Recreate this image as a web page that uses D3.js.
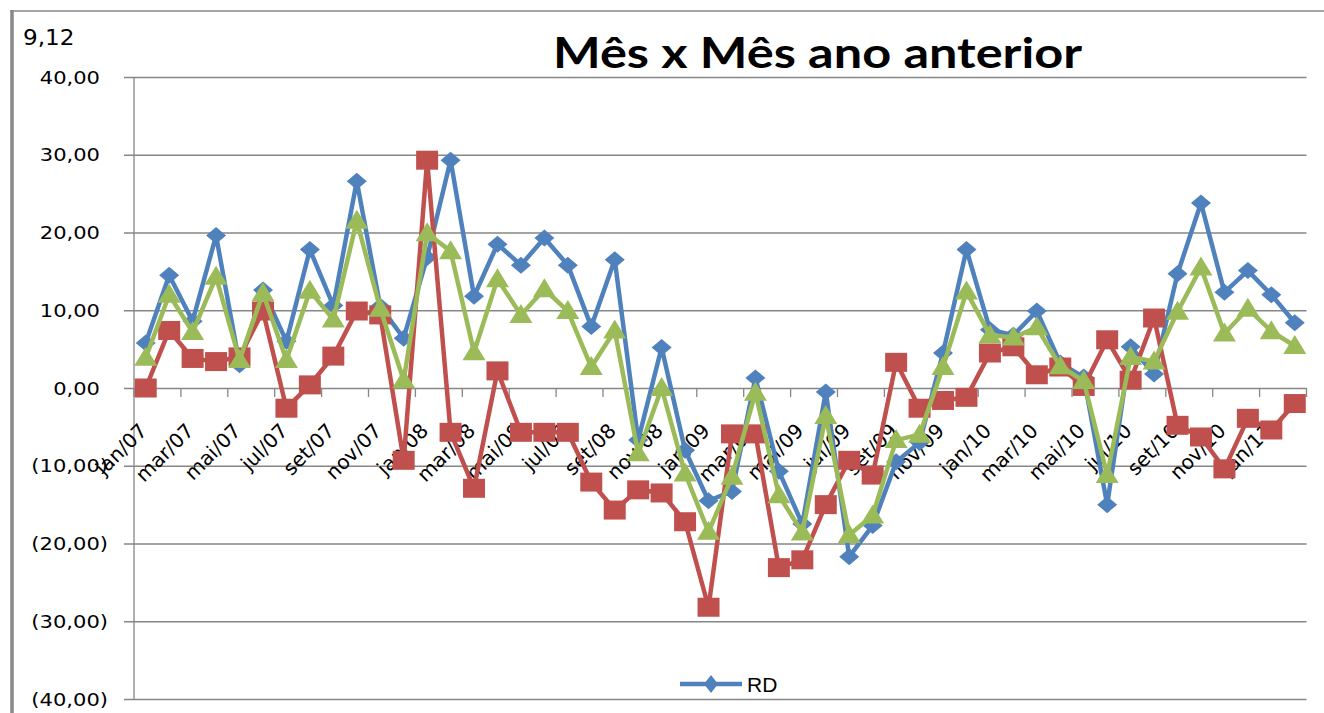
<html>

<head>
    <title>Mês x Mês ano anterior</title>
    <style>
        body {
            margin: 0;
            padding: 0;
            background-color: #ffffff;
        }

        .chart {
            width: 1324px;
            height: 713px;
        }

        .grid line {
            stroke: #868686;
            stroke-width: 1.3px;
        }

        .grid path {
            display: none;
        }

        .axis-x line,
        .axis-x path {
            stroke: #868686;
            stroke-width: 1.3px;
        }

        .axis-x text {
            font-family: "DejaVu Sans", sans-serif;
            font-size: 20px;
            fill: #000;
        }

        .axis-y text {
            font-family: "DejaVu Sans", sans-serif;
            font-size: 18.3px;
            fill: #000;
        }

        .serie {
            fill: none;
            stroke-width: 4.5px;
            stroke-linejoin: round;
        }
    </style>
</head>

<body onload="init()">
    <div class="chart"></div>
    <script src="https://cdnjs.cloudflare.com/ajax/libs/d3/7.8.5/d3.min.js"></script>
    <script>
// meses jan/07 .. fev/11
const months = ["jan/07","fev/07","mar/07","abr/07","mai/07","jun/07","jul/07","ago/07","set/07","out/07","nov/07","dez/07",
    "jan/08","fev/08","mar/08","abr/08","mai/08","jun/08","jul/08","ago/08","set/08","out/08","nov/08","dez/08",
    "jan/09","fev/09","mar/09","abr/09","mai/09","jun/09","jul/09","ago/09","set/09","out/09","nov/09","dez/09",
    "jan/10","fev/10","mar/10","abr/10","mai/10","jun/10","jul/10","ago/10","set/10","out/10","nov/10","dez/10",
    "jan/11","fev/11"];

// rotulos mostrados no eixo x (um sim, um nao)
const xLabels = ["jan/07","mar/07","mai/07","jul/07","set/07","nov/07","jan/08","mar/08","mai/08","jul/08","set/08","nov/08",
    "jan/09","mar/09","mai/09","jul/09","set/09","nov/09","jan/10","mar/10","mai/10","jul/10","set/10","nov/10","jan/11"];

const yTicks = [40, 30, 20, 10, 0, -10, -20, -30, -40];

const rd = [5.8, 14.5, 8.6, 19.6, 3.0, 12.6, 6.0, 17.8, 10.6, 26.6, 10.5, 6.4,
    16.8, 29.3, 11.8, 18.5, 15.8, 19.3, 15.8, 7.9, 16.5, -6.7, 5.2, -8.0,
    -14.5, -13.3, 1.3, -10.7, -17.5, -0.5, -21.7, -17.7, -9.5, -7.0, 4.5, 17.8,
    7.5, 6.8, 9.9, 3.2, 1.4, -15.0, 5.3, 1.8, 14.7, 23.8, 12.3, 15.1,
    12.0, 8.4];

const red = [0.0, 7.4, 3.8, 3.4, 4.0, 9.9, -2.6, 0.4, 4.1, 9.9, 9.4, -9.3,
    29.3, -5.7, -12.9, 2.2, -5.7, -5.7, -5.7, -12.1, -15.7, -13.1, -13.5, -17.2,
    -28.2, -5.9, -5.9, -23.1, -22.1, -15.0, -9.3, -11.2, 3.3, -2.6, -1.6, -1.2,
    4.5, 5.3, 1.7, 2.7, 0.2, 6.2, 1.0, 9.0, -4.8, -6.3, -10.4, -3.9,
    -5.4, -2.0];

const green = [3.9, 12.0, 7.2, 14.3, 3.6, 12.2, 3.6, 12.5, 8.8, 21.5, 10.2, 1.0,
    19.9, 17.6, 4.6, 14.0, 9.4, 12.7, 9.9, 2.7, 7.4, -8.4, 0.0, -11.0,
    -18.5, -11.4, -0.6, -13.8, -18.6, -3.6, -18.9, -16.4, -6.7, -6.0, 2.7, 12.4,
    6.8, 6.5, 7.8, 2.8, 0.9, -11.2, 4.0, 3.4, 9.8, 15.5, 7.0, 10.2,
    7.3, 5.4];

function init() {
    const svg = d3.select('.chart')
        .append('svg')
        .attr('width', 1324)
        .attr('height', 713);

    // moldura
    svg.append('line').attr('x1', 10).attr('x2', 1324).attr('y1', 11).attr('y2', 11)
        .attr('stroke', '#898989').attr('stroke-width', 1.6);
    svg.append('line').attr('x1', 12).attr('x2', 12).attr('y1', 10).attr('y2', 713)
        .attr('stroke', '#898989').attr('stroke-width', 3.5);

    const xScale = d3.scaleBand()
        .domain(months)
        .range([134, 1306.5])
        .padding(0);

    const yScale = d3.scaleLinear()
        .domain([-40, 40])
        .range([699, 77]);

    const cx = d => xScale(d) + xScale.bandwidth() / 2;

    // grade horizontal + marcas do eixo y (comeca 10px a esquerda do eixo)
    svg.append('g')
        .attr('class', 'grid')
        .attr('transform', 'translate(124,0)')
        .call(d3.axisRight(yScale).tickValues(yTicks).tickSize(1306.5 - 124).tickFormat(''));

    // eixo vertical
    svg.append('line').attr('x1', 134).attr('x2', 134).attr('y1', yScale(40)).attr('y2', yScale(-40))
        .attr('stroke', '#868686').attr('stroke-width', 1.3);

    // rotulos do eixo y
    const fmt = v => {
        const s = d3.format(',.2f')(Math.abs(v)).replace('.', ',');
        return v < 0 ? '(' + s + ')' : s;
    };
    svg.append('g')
        .attr('class', 'axis-y')
        .selectAll('text')
        .data(yTicks)
        .enter()
        .append('text')
        .attr('text-anchor', 'end')
        .attr('transform', d => `translate(${d < 0 ? 108 : 100},${yScale(d) + 6.5}) scale(1.15,1)`)
        .text(fmt);

    // marcas do eixo x (a cada 2 meses) sobre a linha do zero
    const tickMonths = months.filter((m, i) => i % 2 === 0);
    const xAxis = svg.append('g').attr('class', 'axis-x');
    xAxis.selectAll('line')
        .data(tickMonths.concat(['end']))
        .enter()
        .append('line')
        .attr('x1', d => d === 'end' ? xScale.range()[1] : xScale(d))
        .attr('x2', d => d === 'end' ? xScale.range()[1] : xScale(d))
        .attr('y1', yScale(0))
        .attr('y2', yScale(0) + 9);

    xAxis.selectAll('text')
        .data(xLabels)
        .enter()
        .append('text')
        .attr('text-anchor', 'end')
        .attr('transform', d => `translate(${cx(d) + 2.5},${yScale(0) + 44}) rotate(-45)`)
        .text(d => d);

    // series
    const series = [
        { name: 'RD', values: rd, color: '#4F81BD', marker: 'diamond' },
        { name: 's2', values: red, color: '#C0504D', marker: 'square' },
        { name: 's3', values: green, color: '#9BBB59', marker: 'triangle' }
    ];

    const line = d3.line()
        .x((d, i) => cx(months[i]))
        .y(d => yScale(d));

    const shapes = {
        diamond: 'M0,-8.5 L10,0 L0,8.5 L-10,0 Z',
        square: 'M-11,-9.5 L11,-9.5 L11,9.5 L-11,9.5 Z',
        triangle: 'M0,-11 L11.5,8 L-11.5,8 Z'
    };

    series.forEach(s => {
        svg.append('path')
            .datum(s.values)
            .attr('class', 'serie')
            .attr('stroke', s.color)
            .attr('d', line);

        svg.append('g')
            .selectAll('path')
            .data(s.values)
            .enter()
            .append('path')
            .attr('d', shapes[s.marker])
            .attr('fill', s.color)
            .attr('transform', (d, i) => `translate(${cx(months[i])},${yScale(d)})`);
    });

    // titulo
    svg.append('text')
        .attr('x', 553)
        .attr('y', 68)
        .attr('textLength', 529)
        .attr('lengthAdjust', 'spacingAndGlyphs')
        .style('font-family', 'Lato, "Open Sans", sans-serif')
        .style('font-weight', 'bold')
        .style('font-size', '42px')
        .text('Mês x Mês ano anterior');

    svg.append('text')
        .attr('transform', 'translate(23,45) scale(1.1,1)')
        .style('font-family', '"DejaVu Sans", sans-serif')
        .style('font-size', '21px')
        .text('9,12');

    // legenda (so RD aparece)
    const leg = svg.append('g').attr('transform', 'translate(680,684)');
    leg.append('line').attr('x1', 0).attr('x2', 62).attr('y1', 0).attr('y2', 0)
        .attr('stroke', '#4F81BD').attr('stroke-width', 4.5);
    leg.append('path').attr('d', 'M0,-9 L7,0 L0,9 L-7,0 Z').attr('fill', '#4F81BD')
        .attr('transform', 'translate(31,0)');
    leg.append('text')
        .attr('x', 67)
        .attr('y', 8)
        .style('font-family', '"Liberation Sans", sans-serif')
        .style('font-size', '21px')
        .text('RD');
}
    </script>
</body>

</html>
